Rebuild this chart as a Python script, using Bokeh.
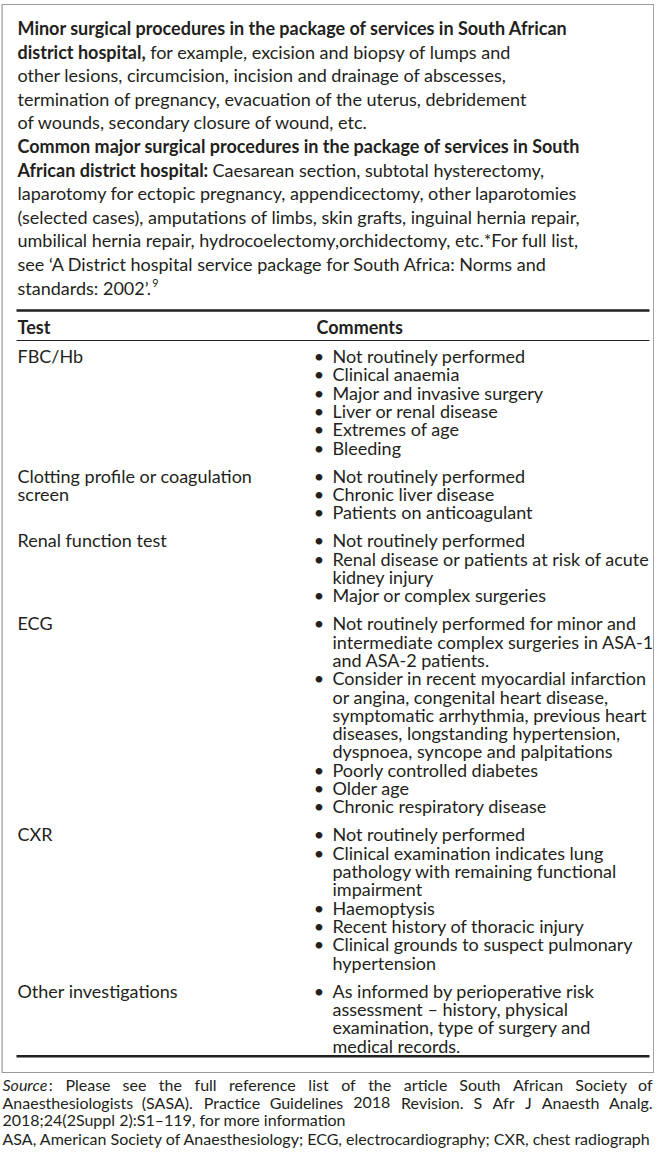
from bokeh.plotting import figure
from bokeh.models import Range1d, ColumnDataSource
from bokeh.core.properties import value
from bokeh.embed import file_html
from bokeh.resources import INLINE

# ---------------- content ----------------
intro_lines = [
    [("Minor surgical procedures in the package of services in South African", "bold")],
    [("district hospital,", "bold"), ("for example, excision and biopsy of lumps and", "normal")],
    [("other lesions, circumcision, incision and drainage of abscesses,", "normal")],
    [("termination of pregnancy, evacuation of the uterus, debridement", "normal")],
    [("of wounds, secondary closure of wound, etc.", "normal")],
    [("Common major surgical procedures in the package of services in South", "bold")],
    [("African district hospital:", "bold"), ("Caesarean section, subtotal hysterectomy,", "normal")],
    [("laparotomy for ectopic pregnancy, appendicectomy, other laparotomies", "normal")],
    [("(selected cases), amputations of limbs, skin grafts, inguinal hernia repair,", "normal")],
    [("umbilical hernia repair, hydrocoelectomy,orchidectomy, etc.*For full list,", "normal")],
    [("see \u2018A District hospital service package for South Africa: Norms and", "normal")],
    [("standards: 2002\u2019.", "normal")],
]
intro_ref = "9"

header_test = "Test"
header_comments = "Comments"

tests = [
    ["FBC/Hb"],
    ["Clotting profile or coagulation", "screen"],
    ["Renal function test"],
    ["ECG"],
    ["CXR"],
    ["Other investigations"],
]

comments = [
    [["Not routinely performed"], ["Clinical anaemia"], ["Major and invasive surgery"],
     ["Liver or renal disease"], ["Extremes of age"], ["Bleeding"]],
    [["Not routinely performed"], ["Chronic liver disease"], ["Patients on anticoagulant"]],
    [["Not routinely performed"], ["Renal disease or patients at risk of acute", "kidney injury"],
     ["Major or complex surgeries"]],
    [["Not routinely performed for minor and", "intermediate complex surgeries in ASA-1",
      "and ASA-2 patients."],
     ["Consider in recent myocardial infarction", "or angina, congenital heart disease,",
      "symptomatic arrhythmia, previous heart", "diseases, longstanding hypertension,",
      "dyspnoea, syncope and palpitations"],
     ["Poorly controlled diabetes"], ["Older age"], ["Chronic respiratory disease"]],
    [["Not routinely performed"],
     ["Clinical examination indicates lung", "pathology with remaining functional", "impairment"],
     ["Haemoptysis"], ["Recent history of thoracic injury"],
     ["Clinical grounds to suspect pulmonary", " hypertension"]],
    [["As informed by perioperative risk", "assessment \u2013 history, physical",
      "examination, type of surgery and", "medical records."]],
]

source_label = "Source"
source_lines = [
    ": Please see the full reference list of the article South African Society of",
    "Anaesthesiologists (SASA). Practice Guidelines 2018 Revision. S Afr J Anaesth Analg.",
    "2018;24(2Suppl 2):S1\u2013119, for more information",
]
abbrev_line = "ASA, American Society of Anaesthesiology; ECG, electrocardiography; CXR, chest radiograph"

# ---------------- layout / style ----------------
PW, PH = 654, 1149
FONT = "Lato"
FS = 18.0            # body font size (px)
FS_FOOT = 16.0       # footer font size (px)
COLOR = "#231f20"

# approximate Lato advance widths (em)
_w = {' ': .193, 'a': .49, 'b': .56, 'c': .45, 'd': .56, 'e': .52, 'f': .32, 'g': .50,
      'h': .56, 'i': .24, 'j': .24, 'k': .50, 'l': .24, 'm': .84, 'n': .56, 'o': .56,
      'p': .55, 'q': .56, 'r': .37, 's': .42, 't': .35, 'u': .56, 'v': .50, 'w': .76,
      'x': .49, 'y': .50, 'z': .44, 'I': .27, 'J': .38, 'S': .52, 'A': .67, 'E': .54,
      'F': .52, 'L': .47, 'P': .58, 'R': .60, 'T': .56, 'C': .65, 'D': .73, 'G': .70,
      'H': .74, 'M': .88, 'N': .74, 'O': .78, 'Q': .78, 'U': .70, 'V': .67, 'W': .98,
      'X': .64, 'Y': .62, 'Z': .60, 'B': .63, 'K': .65, '.': .22, ',': .22, ':': .24,
      ';': .24, '(': .30, ')': .30, '-': .34, '\u2013': .50, '\u2019': .21, '\u2018': .21,
      '*': .38, '/': .35}

def text_w(s, size=FS, bold=False):
    w = 0.0
    for ch in s:
        w += .58 if ch.isdigit() else _w.get(ch, .60)
    return w * size * (1.045 if bold else 1.0)

p = figure(width=PW, height=PH,
           x_range=Range1d(0, PW), y_range=Range1d(PH, 0),
           output_backend="svg", toolbar_location=None, min_border=0)
p.axis.visible = False
p.grid.visible = False
p.outline_line_color = None
p.background_fill_color = "white"
p.border_fill_color = "white"

texts = {"x": [], "y": [], "t": [], "style": [], "align": [], "size": []}

def add(x, y, t, style="normal", align="left", size=FS):
    texts["x"].append(x); texts["y"].append(y); texts["t"].append(t)
    texts["style"].append(style); texts["align"].append(align)
    texts["size"].append(f"{size:.1f}px")

# outer box
BOX_L, BOX_R, BOX_T, BOX_B = 1.6, 653.2, 4.0, 1072
p.quad(left=[BOX_L], right=[BOX_R], top=[BOX_T], bottom=[BOX_B], fill_color=None,
       line_color="#9a9a9a", line_width=1.2)

# intro paragraph
X0 = 17
Y0, DY = 27.5, 23.6
for i, segs in enumerate(intro_lines):
    x = X0
    y = Y0 + i * DY
    for t, st in segs:
        add(x, y, t, st)
        x += text_w(t, bold=(st == "bold")) + 0.26 * FS
last_t = intro_lines[-1][-1][0]
add(X0 + text_w(last_t) + 1.5, Y0 + (len(intro_lines) - 1) * DY - 4.5, intro_ref, size=FS * 0.6)

# table rules
TL, TR = 16, 649
p.segment(x0=[TL, TL], y0=[310, 1055.7], x1=[TR, TR], y1=[310, 1055.7],
          line_color=COLOR, line_width=2.6)
p.segment(x0=[TL], y0=[340], x1=[TR], y1=[340], line_color=COLOR, line_width=1.0)

# header
add(17, 326.5, header_test, "bold")
add(316, 326.5, header_comments, "bold")

# rows
RY0, RDY, RGAP = 355.5, 18.3, 9.8
BX, CX = 318.5, 332
y = RY0
bul = {"x": [], "y": []}
for test_lines, items in zip(tests, comments):
    for k, tl in enumerate(test_lines):
        add(17, y + k * RDY, tl)
    for item in items:
        bul["x"].append(BX); bul["y"].append(y)
        for ln in item:
            add(CX, y, ln)
            y += RDY
    y += RGAP

p.text(x="x", y="y", text=value("\u2022"), source=ColumnDataSource(bul),
       text_font=value(FONT), text_font_size=f"{FS:.1f}px", text_align="center",
       text_baseline="middle", text_color=COLOR)

# footer (justified lines)
LX, RX = 2, 652
SY = [1084, 1101.5, 1119, 1138]

def justify(words, y, left, right, first_w=None):
    widths = [text_w(w, FS_FOOT) for w in words]
    if first_w is not None:
        widths[0] = first_w
    gap = (right - left - sum(widths)) / (len(words) - 1)
    x = left
    for j, (w, ww) in enumerate(zip(words, widths)):
        if j == len(words) - 1:
            add(right, y, w, align="right", size=FS_FOOT)
        elif not (j == 0 and first_w is not None):
            add(x, y, w, size=FS_FOOT)
        x += ww + gap

lab_w = text_w(source_label, FS_FOOT) * 0.97
colon_w = text_w(":", FS_FOOT)
w0 = source_lines[0].split(" ")
words0 = [source_label + w0[0]] + w0[1:]
add(LX, SY[0], source_label, "italic", size=FS_FOOT)
add(LX + lab_w, SY[0], w0[0], size=FS_FOOT)
justify(words0, SY[0], LX, RX, first_w=lab_w + colon_w)
justify(source_lines[1].split(" "), SY[1], LX, RX)
add(LX, SY[2], source_lines[2], size=FS_FOOT)
add(LX, SY[3], abbrev_line, size=FS_FOOT)

src = ColumnDataSource(texts)
p.text(x="x", y="y", text="t", source=src, text_font=value(FONT),
       text_font_size="size", text_font_style="style", text_align="align",
       text_baseline="middle", text_color=COLOR)

open("out.html", "w").write(file_html(p, INLINE))
